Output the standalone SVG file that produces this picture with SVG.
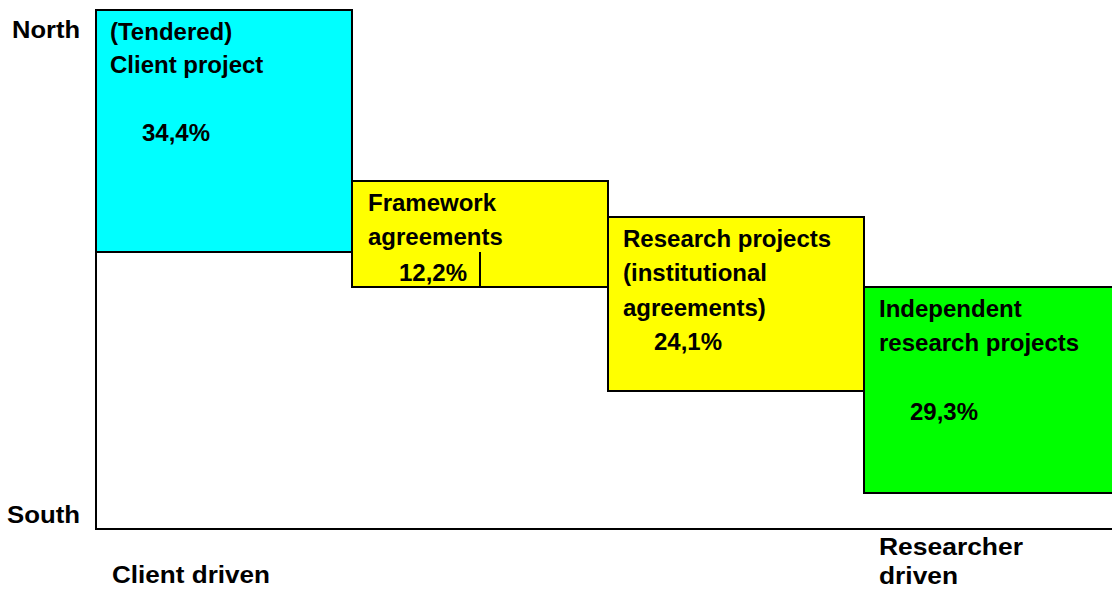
<svg xmlns="http://www.w3.org/2000/svg" width="1112" height="590" viewBox="0 0 1112 590">
<style>
.t{font-family:"Liberation Sans",Arial,sans-serif;font-weight:bold;font-size:24px;fill:#000}
.l{font-family:"Liberation Sans",Arial,sans-serif;font-weight:bold;font-size:24.5px;fill:#000}
.box{stroke:#000;stroke-width:2}
.ax{stroke:#000;stroke-width:2;fill:none}
</style>
<rect width="1112" height="590" fill="#fff"/>
<g id="axes" class="connectors">
<polyline class="ax" points="96,252 96,529 1112,529"/>
</g>
<g id="client-project">
<rect class="box" x="96" y="10" width="256" height="242" fill="#00ffff"/>
<text class="t" x="110" y="40">(Tendered)</text>
<text class="t" x="110" y="73">Client project</text>
<text class="t" x="142" y="141">34,4%</text>
</g>
<g id="framework">
<rect class="box" x="352" y="181" width="256" height="106" fill="#ffff00"/>
<line x1="480" y1="252" x2="480" y2="287" stroke="#000" stroke-width="2"/>
<text class="t" x="368" y="211">Framework</text>
<text class="t" x="368" y="245">agreements</text>
<text class="t" x="399" y="281">12,2%</text>
</g>
<g id="research">
<rect class="box" x="608" y="217" width="256" height="174" fill="#ffff00"/>
<text class="t" x="623" y="247">Research projects</text>
<text class="t" x="623" y="281">(institutional</text>
<text class="t" x="623" y="316">agreements)</text>
<text class="t" x="654" y="350">24,1%</text>
</g>
<g id="independent">
<rect class="box" x="864" y="287" width="250" height="206" fill="#00ff00"/>
<text class="t" x="879" y="317">Independent</text>
<text class="t" x="879" y="351">research projects</text>
<text class="t" x="910" y="420">29,3%</text>
</g>
<g id="labels">
<text class="l" x="12" y="38" textLength="68" lengthAdjust="spacingAndGlyphs">North</text>
<text class="l" x="7" y="523" textLength="73" lengthAdjust="spacingAndGlyphs">South</text>
<text class="l" x="112" y="583" textLength="158" lengthAdjust="spacingAndGlyphs">Client driven</text>
<text class="l" x="879" y="555" textLength="144" lengthAdjust="spacingAndGlyphs">Researcher</text>
<text class="l" x="879" y="584" textLength="79" lengthAdjust="spacingAndGlyphs">driven</text>
</g>
</svg>
